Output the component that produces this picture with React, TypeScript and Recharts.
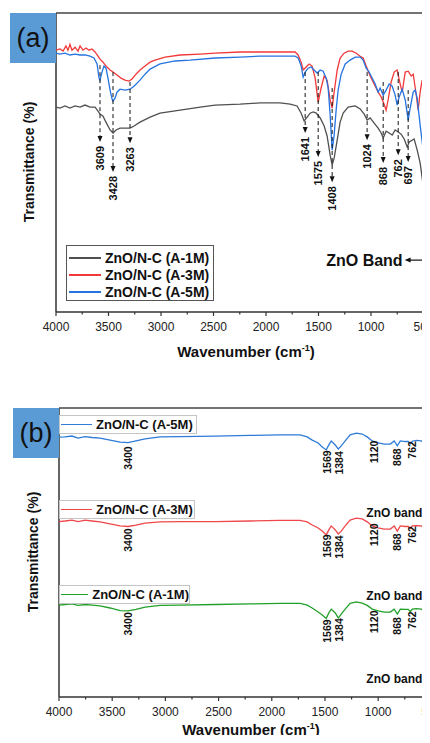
import React from 'react';
import { LineChart, Line, XAxis, YAxis, ReferenceLine, ReferenceDot } from 'recharts';

// panel (a): [wavenumber cm-1, transmittance]
const a1M: [number, number][] = [
  [4000, 68.3], [3962, 68.0], [3914, 68.7], [3867, 68.0], [3819, 68.7], [3771, 68.3], [3724, 69.0], [3676, 68.3],
  [3628, 68.3], [3600, 67.0], [3581, 66.0], [3552, 65.3], [3524, 63.3], [3485, 60.7], [3457, 59.7], [3428, 60.7],
  [3390, 61.3], [3343, 61.3], [3295, 61.3], [3257, 62.0], [3200, 63.3], [3104, 65.0], [3009, 66.3], [2818, 67.3],
  [2627, 68.3], [2485, 69.0], [2247, 69.3], [2056, 69.7], [1866, 69.7], [1770, 69.3], [1704, 68.7], [1665, 66.3],
  [1637, 63.7], [1608, 65.0], [1580, 66.3], [1551, 66.7], [1522, 66.3], [1484, 64.7], [1446, 62.0], [1418, 58.7],
  [1389, 52.3], [1370, 49.0], [1351, 51.3], [1322, 57.3], [1294, 63.3], [1265, 66.3], [1218, 68.3], [1151, 68.7],
  [1103, 67.7], [1065, 66.0], [1037, 64.0], [1008, 64.7], [970, 63.0], [932, 61.3], [903, 59.7], [884, 58.0],
  [856, 60.3], [827, 59.7], [798, 59.0], [770, 60.7], [741, 60.0], [713, 59.3], [684, 57.7], [655, 55.0],
  [636, 56.7], [589, 57.7], [560, 54.0], [532, 49.7], [484, 37.3], [455, 28.3], [436, 24.0], [410, 18.5],
];
const a3M: [number, number][] = [
  [4000, 87.3], [3962, 87.7], [3933, 87.0], [3905, 88.7], [3886, 87.3], [3867, 89.3], [3848, 87.3], [3819, 88.3],
  [3790, 87.0], [3771, 88.7], [3743, 87.3], [3714, 88.0], [3686, 87.3], [3657, 87.7], [3628, 86.7], [3600, 85.3],
  [3581, 84.3], [3552, 83.3], [3524, 82.0], [3485, 80.7], [3457, 80.0], [3419, 79.0], [3381, 78.0], [3343, 77.3],
  [3305, 77.0], [3276, 77.7], [3238, 79.3], [3200, 80.7], [3152, 82.0], [3104, 83.3], [3057, 84.0], [2961, 85.0],
  [2818, 85.7], [2627, 86.0], [2485, 86.3], [2247, 86.7], [2056, 86.7], [1866, 86.7], [1723, 86.7], [1694, 85.7],
  [1665, 83.3], [1646, 80.7], [1618, 81.7], [1589, 82.7], [1561, 82.0], [1532, 78.0], [1503, 70.0], [1475, 74.7],
  [1446, 78.7], [1418, 77.3], [1389, 70.7], [1370, 68.0], [1351, 73.3], [1322, 80.7], [1294, 84.7], [1256, 86.3],
  [1218, 87.0], [1180, 87.0], [1141, 86.3], [1103, 85.3], [1075, 84.7], [1046, 82.0], [1008, 78.7], [970, 76.0],
  [932, 73.3], [903, 71.7], [875, 69.3], [856, 67.3], [837, 70.7], [808, 76.7], [779, 80.0], [751, 80.7],
  [722, 76.0], [703, 73.3], [674, 80.0], [646, 80.3], [617, 78.7], [598, 79.3], [570, 72.7], [551, 67.3],
  [532, 73.3], [513, 77.3], [493, 74.7], [474, 60.7], [455, 48.0], [436, 44.0], [410, 39.0],
];
const a5M: [number, number][] = [
  [4000, 86.3], [3962, 86.0], [3914, 86.3], [3867, 85.7], [3819, 86.0], [3771, 85.7], [3724, 85.7], [3676, 85.3],
  [3638, 84.7], [3609, 82.7], [3590, 78.0], [3581, 77.3], [3562, 80.0], [3543, 82.0], [3524, 81.3], [3505, 78.0],
  [3485, 74.0], [3466, 71.0], [3457, 70.3], [3438, 71.3], [3419, 73.3], [3390, 74.3], [3343, 74.0], [3295, 74.3],
  [3257, 75.3], [3200, 77.3], [3152, 79.3], [3104, 81.0], [3009, 82.7], [2866, 83.7], [2723, 84.0], [2485, 84.7],
  [2247, 85.0], [2056, 85.3], [1866, 85.3], [1723, 85.3], [1694, 84.7], [1665, 82.0], [1646, 78.3], [1627, 80.0],
  [1599, 81.3], [1570, 81.7], [1542, 80.7], [1513, 79.7], [1484, 80.7], [1456, 80.3], [1427, 78.0], [1408, 74.7],
  [1389, 65.7], [1370, 54.0], [1351, 59.0], [1332, 67.3], [1313, 74.0], [1284, 79.3], [1246, 82.7], [1199, 84.0],
  [1151, 85.0], [1103, 85.0], [1075, 84.0], [1046, 81.3], [1018, 80.0], [989, 78.0], [960, 76.0], [932, 73.3],
  [913, 74.7], [884, 72.3], [856, 74.0], [827, 76.0], [798, 75.3], [770, 72.3], [751, 69.0], [732, 71.7],
  [703, 74.3], [674, 70.7], [646, 64.0], [627, 68.0], [598, 73.3], [579, 74.0], [560, 71.3], [532, 62.3],
  [503, 54.0], [474, 48.0], [455, 45.7], [427, 42.3], [410, 39.5],
];

// panel (a) peak markers
const aPeakLabels = ['3609', '3428', '3263', '1641', '1575', '1408', '1024', '868', '762', '697'];
const aPeakAt = [3581, 3457, 3295, 1627, 1503, 1370, 1037, 884, 741, 646];
const aPeakTop = [82.3, 80.0, 76.7, 80.0, 80.0, 74.7, 80.0, 76.7, 80.0, 74.0];
const aPeakArrow = [56.7, 46.7, 56.3, 59.7, 51.7, 43.3, 57.3, 49.7, 52.3, 50.0];

// panel (b): stacked spectra
const b5M: [number, number][] = [
  [4000, 89.9], [3944, 90.0], [3878, 90.3], [3821, 89.6], [3755, 90.1], [3690, 89.8], [3614, 89.6], [3520, 88.9],
  [3426, 88.2], [3351, 88.0], [3276, 88.6], [3191, 89.3], [3050, 90.0], [2862, 90.1], [2532, 90.3], [2203, 90.5],
  [1921, 90.7], [1733, 90.7], [1667, 90.0], [1620, 88.9], [1564, 87.9], [1526, 86.5], [1488, 85.5], [1460, 87.5],
  [1441, 88.6], [1403, 87.2], [1375, 85.8], [1347, 86.9], [1310, 88.6], [1263, 90.7], [1206, 91.3], [1150, 91.0],
  [1103, 90.0], [1056, 88.6], [1000, 87.9], [943, 87.5], [886, 87.5], [849, 88.6], [820, 86.9], [792, 88.6],
  [745, 88.4], [717, 88.4], [698, 87.6], [679, 88.5], [642, 88.8], [595, 88.6], [567, 87.9], [548, 84.8],
  [529, 81.3], [511, 78.5], [482, 75.1], [454, 71.6], [416, 68.2],
];
const b3M: [number, number][] = [
  [4000, 60.7], [3944, 60.9], [3878, 61.2], [3821, 60.7], [3755, 61.2], [3690, 60.9], [3614, 60.6], [3520, 59.9],
  [3426, 59.2], [3351, 59.0], [3276, 59.5], [3191, 60.2], [3050, 60.6], [2862, 60.7], [2532, 60.7], [2203, 60.9],
  [1921, 61.1], [1733, 61.1], [1667, 60.6], [1620, 59.5], [1564, 58.5], [1526, 57.4], [1488, 56.1], [1460, 58.1],
  [1441, 59.2], [1403, 57.8], [1375, 56.4], [1347, 57.4], [1310, 59.2], [1263, 61.2], [1206, 61.9], [1150, 61.6],
  [1103, 60.6], [1056, 59.2], [1000, 58.5], [943, 58.1], [886, 58.1], [849, 59.2], [820, 57.4], [792, 59.2],
  [745, 59.0], [717, 59.0], [698, 58.3], [679, 59.2], [642, 59.3], [595, 59.2], [567, 58.5], [548, 55.4],
  [529, 51.9], [511, 49.1], [482, 45.7], [454, 42.2], [416, 38.8],
];
const b1M: [number, number][] = [
  [4000, 31.8], [3944, 32.0], [3878, 32.2], [3821, 31.7], [3755, 32.0], [3690, 31.8], [3614, 31.5], [3520, 30.8],
  [3426, 29.9], [3351, 29.8], [3276, 30.3], [3191, 31.1], [3050, 31.7], [2862, 31.8], [2532, 32.0], [2203, 32.2],
  [1921, 32.4], [1733, 32.4], [1667, 31.8], [1620, 30.8], [1564, 29.4], [1526, 28.4], [1488, 27.2], [1460, 29.4],
  [1441, 30.4], [1403, 29.1], [1375, 27.3], [1347, 28.7], [1310, 30.4], [1263, 32.4], [1206, 32.9], [1150, 32.5],
  [1103, 31.7], [1056, 30.4], [1000, 29.8], [943, 29.4], [886, 29.4], [849, 30.4], [820, 28.7], [792, 30.4],
  [745, 30.3], [717, 30.3], [698, 29.5], [679, 30.4], [642, 30.6], [595, 30.4], [567, 29.8], [548, 26.6],
  [529, 23.2], [511, 19.7], [482, 16.3], [454, 12.8], [416, 9.3],
];

const bPeakLabels = ['3400', '1569', '1384', '1120', '868', '762'];
const bPeakAt = [3351, 1479, 1366, 1037, 820, 679];
const b5MPeakY = [82.7, 81.3, 81.0, 84.8, 83.0, 85.5];
const b3MPeakY = [54.3, 52.2, 51.9, 56.1, 53.6, 56.1];
const b1MPeakY = [25.3, 22.8, 23.2, 26.0, 24.6, 26.6];
const bBandY = [63.7, 34.9, 6.2];

const xTicks = [4000, 3750, 3500, 3250, 3000, 2750, 2500, 2250, 2000, 1750, 1500, 1250, 1000, 750, 500];

const FONT = '"Liberation Sans", Arial, sans-serif';
const rows = (s: [number, number][]) => s.map(([w, t]) => ({ w, t }));

const AxisTick = (props: any) => {
  const { x, y, payload } = props;
  const major = payload.value % 500 === 0;
  return (
    <g>
      <line x1={x} x2={x} y1={y} y2={y + (major ? 4 : 2.5)} stroke="#333" strokeWidth={1.2} />
      {major && (
        <text x={x} y={y + 15} textAnchor="middle" dominantBaseline="central" fontSize={12} fill="#222" fontFamily={FONT}>
          {payload.value}
        </text>
      )}
    </g>
  );
};

const peakArrow = (label: string) => (props: any) => {
  const { cx, cy } = props;
  return (
    <g>
      <path d={`M${cx - 2.5},${cy - 6} L${cx + 2.5},${cy - 6} L${cx},${cy} Z`} fill="#111" />
      <text
        x={cx} y={cy + 4} transform={`rotate(-90 ${cx} ${cy + 4})`}
        textAnchor="end" dominantBaseline="central" fontSize={11} fontWeight="bold" fill="#111" fontFamily={FONT}
      >
        {label}
      </text>
    </g>
  );
};

const peakText = (label: string) => (props: any) => {
  const { cx, cy } = props;
  return (
    <text
      x={cx} y={cy} transform={`rotate(-90 ${cx} ${cy})`}
      textAnchor="middle" dominantBaseline="central" fontSize={10.5} fontWeight="bold" fill="#111" fontFamily={FONT}
    >
      {label}
    </text>
  );
};

const bandMark = (label: string, size: number, gap: number) => (props: any) => {
  const { cx, cy } = props;
  return (
    <g>
      <text x={cx - gap - 2} y={cy} textAnchor="end" dominantBaseline="central" fontSize={size} fontWeight="bold" fill="#111" fontFamily={FONT}>
        {label}
      </text>
      <line x1={cx - gap + 4} x2={cx + 4} y1={cy} y2={cy} stroke="#111" strokeWidth={1.2} />
      <path d={`M${cx - gap},${cy} L${cx - gap + 6},${cy - 2.5} L${cx - gap + 6},${cy + 2.5} Z`} fill="#111" />
    </g>
  );
};

const Tag = ({ text, left, top }: { text: string; left: number; top: number }) => (
  <div style={{
    position: 'absolute', left, top, width: 46, height: 50, background: '#5b9bd5',
    display: 'flex', alignItems: 'center', justifyContent: 'center', fontSize: 27, color: '#111', fontFamily: FONT,
  }}>{text}</div>
);

const YTitle = ({ left, top }: { left: number; top: number }) => (
  <div style={{
    position: 'absolute', left, top, transform: 'translate(-50%, -50%) rotate(-90deg)', whiteSpace: 'nowrap',
    fontSize: 14, fontWeight: 'bold', color: '#111', fontFamily: FONT,
  }}>Transmittance (%)</div>
);

const XTitle = ({ left, top }: { left: number; top: number }) => (
  <div style={{
    position: 'absolute', left, top, transform: 'translate(-50%, -50%)', whiteSpace: 'nowrap',
    fontSize: 15, fontWeight: 'bold', color: '#111', fontFamily: FONT, lineHeight: '18px',
  }}>Wavenumber (cm<sup style={{ fontSize: 9, lineHeight: 0 }}>-1</sup>)</div>
);

const lineStyle = { dot: false, isAnimationActive: false, strokeWidth: 1.3, type: 'linear' as const };

export default function App() {
  const aLegend = [
    { name: 'ZnO/N-C (A-1M)', color: '#505050' },
    { name: 'ZnO/N-C (A-3M)', color: '#f2393a' },
    { name: 'ZnO/N-C (A-5M)', color: '#2574e0' },
  ];
  const bSeries = [
    { name: 'ZnO/N-C (A-5M)', color: '#2e7bd8', data: b5M, peaks: b5MPeakY, top: 415, width: 136 },
    { name: 'ZnO/N-C (A-3M)', color: '#f0484a', data: b3M, peaks: b3MPeakY, top: 500, width: 134 },
    { name: 'ZnO/N-C (A-1M)', color: '#22a02a', data: b1M, peaks: b1MPeakY, top: 585, width: 129 },
  ];

  return (
    <div style={{ position: 'relative', width: 430, height: 743, margin: -8, overflow: 'hidden', background: '#fff', fontFamily: FONT }}>
      {/* panel (a) */}
      <div style={{ position: 'absolute', left: 0, top: 0 }}>
        <LineChart width={440} height={370} margin={{ top: 13, right: 6, bottom: 28, left: 56 }}>
          <XAxis
            type="number" dataKey="w" domain={[400, 4000]} reversed ticks={xTicks} interval={0}
            tick={<AxisTick />} tickLine={false} tickSize={0} tickMargin={0} height={30}
            axisLine={{ stroke: '#333', strokeWidth: 1.5 }}
          />
          <YAxis hide type="number" domain={[0, 99.7]} />
          <ReferenceLine x={4000} stroke="#333" strokeWidth={1.5} />
          <ReferenceLine y={99.7} stroke="#444" strokeWidth={1.5} />
          <Line data={rows(a1M)} dataKey="t" stroke="#505050" {...lineStyle} />
          <Line data={rows(a3M)} dataKey="t" stroke="#f2393a" {...lineStyle} />
          <Line data={rows(a5M)} dataKey="t" stroke="#2574e0" {...lineStyle} />
          {aPeakLabels.map((label, i) => (
            <ReferenceLine
              key={`seg-${label}`}
              segment={[{ x: aPeakAt[i], y: aPeakTop[i] }, { x: aPeakAt[i], y: aPeakArrow[i] + 1.5 }]}
              stroke="#111" strokeWidth={1} strokeDasharray="4 3"
            />
          ))}
          {aPeakLabels.map((label, i) => (
            <ReferenceDot key={`pk-${label}`} x={aPeakAt[i]} y={aPeakArrow[i]} r={0} shape={peakArrow(label)} />
          ))}
          <ReferenceDot x={470} y={17.3} r={0} shape={bandMark('ZnO Band', 16, 22)} />
        </LineChart>
        <div style={{
          position: 'absolute', left: 66, top: 245, width: 146, height: 54, border: '1px solid #555', background: '#fff',
        }}>
          {aLegend.map((s, i) => (
            <div key={s.name} style={{ position: 'absolute', left: 2, top: 3 + i * 17, height: 17, display: 'flex', alignItems: 'center' }}>
              <div style={{ width: 32, height: 2, background: s.color, marginRight: 4 }} />
              <span style={{ fontSize: 14, fontWeight: 'bold', color: '#111', whiteSpace: 'nowrap' }}>{s.name}</span>
            </div>
          ))}
        </div>
        <Tag text="(a)" left={10} top={13} />
        <YTitle left={29} top={162} />
        <XTitle left={246} top={352} />
      </div>

      {/* panel (b) */}
      <div style={{ position: 'absolute', left: 0, top: 380 }}>
        <LineChart width={448} height={363} margin={{ top: 28, right: 6, bottom: 16, left: 59 }}>
          <XAxis
            type="number" dataKey="w" domain={[400, 4000]} reversed ticks={xTicks} interval={0}
            tick={<AxisTick />} tickLine={false} tickSize={0} tickMargin={0} height={30}
            axisLine={{ stroke: '#333', strokeWidth: 1.5 }}
          />
          <YAxis hide type="number" domain={[0, 100]} />
          <ReferenceLine x={4000} stroke="#333" strokeWidth={1.5} />
          <ReferenceLine y={100} stroke="#444" strokeWidth={1.5} />
          {bSeries.map((s) => (
            <Line key={s.name} data={rows(s.data)} dataKey="t" stroke={s.color} {...lineStyle} />
          ))}
          {bSeries.map((s) =>
            bPeakLabels.map((label, i) => (
              <ReferenceDot key={`${s.name}-${label}`} x={bPeakAt[i]} y={s.peaks[i]} r={0} shape={peakText(label)} />
            ))
          )}
          {bBandY.map((y) => (
            <ReferenceDot key={`band-${y}`} x={500} y={y} r={0} shape={bandMark('ZnO band', 12, 7)} />
          ))}
        </LineChart>
        {bSeries.map((s) => (
          <div key={s.name} style={{
            position: 'absolute', left: 59, top: s.top - 380, width: s.width, height: 17,
            border: '1px solid #c4c4c4', background: '#fff', display: 'flex', alignItems: 'center',
          }}>
            <div style={{ width: 31, height: 1.6, background: s.color, marginLeft: 1, marginRight: 4 }} />
            <span style={{ fontSize: 13, fontWeight: 'bold', color: '#111', whiteSpace: 'nowrap' }}>{s.name}</span>
          </div>
        ))}
        <Tag text="(b)" left={13} top={28} />
        <YTitle left={33} top={172} />
        <XTitle left={251} top={350} />
      </div>
    </div>
  );
}
